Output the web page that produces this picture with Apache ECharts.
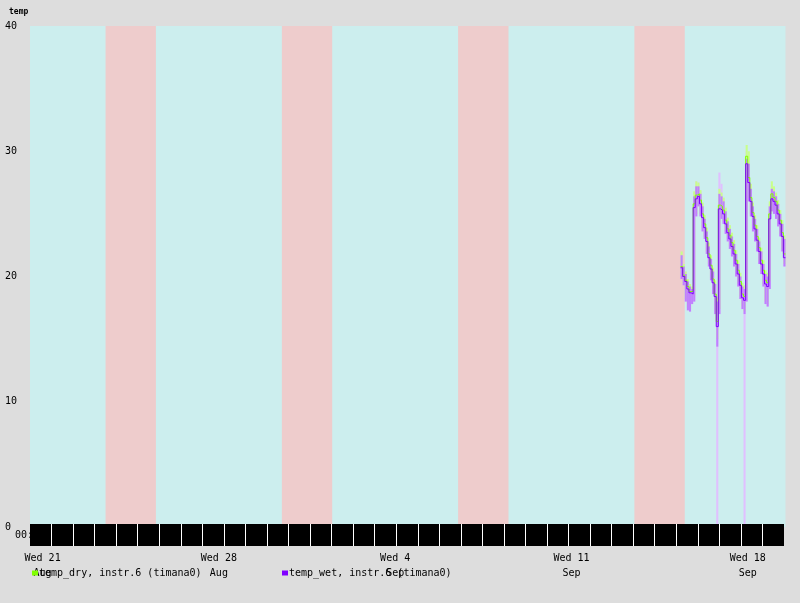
<!DOCTYPE html>
<html><head><meta charset="utf-8">
<script src="https://cdn.jsdelivr.net/npm/echarts@6/dist/echarts.min.js"></script>
<style>html,body{margin:0;padding:0;background:#dddddd}#c{width:800px;height:603px}</style>
</head><body><div id="c"></div>
<script>
const axisStart = '2024-08-21 00:00';
const axisEnd = '2024-09-20 00:00';
const weekendStarts = ['2024-08-24 00:00', '2024-08-31 00:00', '2024-09-07 00:00', '2024-09-14 00:00'];
const weekendEnds = ['2024-08-26 00:00', '2024-09-02 00:00', '2024-09-09 00:00', '2024-09-16 00:00'];
const xLabelTimes = ['2024-08-21 12:00', '2024-08-28 12:00', '2024-09-04 12:00', '2024-09-11 12:00', '2024-09-18 12:00'];
const xLabels = ['Wed 21\nAug', 'Wed 28\nAug', 'Wed 4\nSep', 'Wed 11\nSep', 'Wed 18\nSep'];
const yMin = 0, yMax = 40, yStep = 10;
const bandLabel = ['00:00'];
const dryName = 'temp_dry, instr.6 (timana0)';
const wetName = 'temp_wet, instr.6 (timana0)';
const sampleStart = '2024-09-15 20:00';
const sampleStepHours = 2;

const wetAvg = [
20.7, 20.0, 19.6, 19.0, 18.7, 18.6, 25.5, 26.2, 26.4, 25.8,
24.7, 23.9, 22.8, 21.5, 20.6, 19.5, 18.4, 16.0, 25.4, 25.3,
25.0, 24.2, 23.5, 23.0, 22.4, 21.8, 21.0, 20.2, 19.3, 18.3,
18.1, 29.0, 27.5, 26.0, 24.8, 23.8, 22.9, 22.0, 21.0, 20.2,
19.4, 19.2, 24.6, 26.2, 26.0, 25.7, 25.0, 24.2, 23.2, 21.5];
const wetMin = [
19.8, 19.3, 18.0, 17.3, 17.2, 17.8, 18.0, 24.8, 25.6, 24.8,
23.6, 23.0, 21.8, 20.8, 19.7, 18.6, 17.0, 14.4, 17.0, 24.6,
24.2, 23.4, 22.8, 22.2, 21.6, 20.8, 20.0, 19.2, 18.2, 17.4,
17.0, 18.0, 26.0, 24.8, 23.6, 22.8, 22.0, 21.0, 20.2, 19.2,
17.8, 17.6, 19.0, 25.2, 25.0, 24.6, 24.0, 23.2, 22.0, 20.8];
const wetMax = [
21.7, 20.8, 20.2, 19.6, 19.2, 19.0, 26.4, 27.2, 27.2, 26.6,
25.6, 24.6, 23.6, 22.4, 21.4, 20.4, 19.4, 18.0, 26.6, 26.4,
26.0, 25.2, 24.4, 23.8, 23.2, 22.6, 21.8, 21.0, 20.0, 19.2,
19.0, 29.4, 29.0, 27.0, 25.6, 24.6, 23.8, 22.8, 22.0, 21.0,
20.2, 20.0, 25.6, 27.0, 26.8, 26.4, 25.8, 25.0, 24.2, 23.0];
const wetLow = [
19.8, 19.3, 18.0, 17.3, 17.2, 17.8, 18.0, 24.8, 25.6, 24.8,
23.6, 23.0, 21.8, 20.8, 19.7, 18.6, 17.0, 0.0, 17.0, 24.6,
24.2, 23.4, 22.8, 22.2, 21.6, 20.8, 20.0, 19.2, 18.2, 17.4,
0.0, 18.0, 26.0, 24.8, 23.6, 22.8, 22.0, 21.0, 20.2, 19.2,
17.8, 17.6, 19.0, 25.2, 25.0, 24.6, 24.0, 23.2, 22.0, 20.8];
const wetHigh = [
21.7, 20.8, 20.2, 19.6, 19.2, 19.0, 26.6, 27.6, 27.5, 26.8,
25.6, 24.6, 23.6, 22.4, 21.4, 20.4, 19.4, 18.4, 28.3, 27.4,
26.2, 25.2, 24.4, 23.8, 23.2, 22.6, 21.8, 21.0, 20.0, 19.2,
19.2, 30.0, 29.6, 27.2, 25.6, 24.6, 23.8, 22.8, 22.0, 21.0,
20.2, 20.0, 25.8, 27.3, 27.0, 26.4, 25.8, 25.0, 24.2, 23.0];
const dryAvg = [
20.8, 20.1, 19.7, 19.2, 18.8, 18.8, 25.8, 26.5, 26.6, 26.1,
25.0, 24.2, 23.1, 21.8, 20.9, 19.8, 18.6, 16.4, 25.7, 25.6,
25.3, 24.5, 23.8, 23.3, 22.7, 22.1, 21.3, 20.5, 19.6, 18.6,
18.4, 29.6, 27.9, 26.3, 25.1, 24.1, 23.2, 22.3, 21.3, 20.5,
19.7, 19.5, 25.0, 26.6, 26.3, 26.0, 25.3, 24.5, 23.5, 21.8];
const dryMin = [
20.0, 19.5, 18.2, 17.5, 17.4, 18.0, 18.4, 25.0, 25.8, 25.0,
23.8, 23.2, 22.0, 21.0, 19.9, 18.8, 17.2, 15.0, 17.4, 24.8,
24.4, 23.6, 23.0, 22.4, 21.8, 21.0, 20.2, 19.4, 18.4, 17.6,
17.2, 18.6, 26.4, 25.0, 23.8, 23.0, 22.2, 21.2, 20.4, 19.4,
18.0, 17.8, 19.6, 25.4, 25.2, 24.8, 24.2, 23.4, 22.2, 21.0];
const dryMax = [
22.0, 21.0, 20.4, 19.8, 19.4, 19.2, 26.8, 27.6, 27.5, 26.9,
25.9, 24.9, 23.9, 22.7, 21.7, 20.7, 19.7, 18.3, 27.0, 26.7,
26.3, 25.5, 24.7, 24.1, 23.5, 22.9, 22.1, 21.3, 20.3, 19.5,
19.3, 30.5, 30.0, 27.4, 25.9, 24.9, 24.1, 23.1, 22.3, 21.3,
20.5, 20.3, 26.0, 27.6, 27.2, 26.7, 26.1, 25.3, 24.5, 23.3];

function ms(s) { return new Date(s.replace(' ', 'T')).getTime(); }
const stepMs = sampleStepHours * 3600 * 1000;
const t0 = ms(sampleStart);
const times = wetAvg.map((_, i) => t0 + i * stepMs);
const labelMs = xLabelTimes.map(ms);
const FONT = 'DejaVu Sans Mono';

function bandData(lo, hi) { return times.map((t, i) => [t, lo[i], hi[i]]); }
function lineData(v) { const d = times.map((t, i) => [t, v[i]]); d.push([times[times.length - 1] + stepMs, v[v.length - 1]]); return d; }
function bandRender(color) {
  return function (params, api) {
    const t = api.value(0), lo = api.value(1), hi = api.value(2);
    const p1 = api.coord([t, hi]);
    const p2 = api.coord([t + stepMs, lo]);
    return { type: 'rect', shape: { x: p1[0], y: p1[1], width: p2[0] - p1[0], height: p2[1] - p1[1] }, style: { fill: color } };
  };
}

const chart = echarts.init(document.getElementById('c'));
chart.setOption({
  animation: false,
  backgroundColor: '#dddddd',
  title: { text: 'temp', left: 4, top: 3, textStyle: { fontFamily: FONT, fontSize: 8, fontWeight: 'bold', color: '#000' } },
  legend: [
    { data: [{ name: dryName, icon: 'rect', itemStyle: { color: '#80ff00' } }], left: 32, top: 568, padding: 0, itemGap: 0, itemWidth: 6, itemHeight: 5, selectedMode: false,
      textStyle: { fontFamily: FONT, fontSize: 10, color: '#000', padding: [0, 0, 0, -4] } },
    { data: [{ name: wetName, icon: 'rect', itemStyle: { color: '#8000ff' } }], left: 282, top: 568, padding: 0, itemGap: 0, itemWidth: 6, itemHeight: 5, selectedMode: false,
      textStyle: { fontFamily: FONT, fontSize: 10, color: '#000', padding: [0, 0, 0, -4] } }
  ],
  grid: [
    { left: 30, width: 755.5, top: 26, height: 501, show: true, backgroundColor: '#cceeee', borderWidth: 0 },
    { left: 30, width: 754, top: 524, height: 22, show: false }
  ],
  xAxis: [
    { gridIndex: 0, type: 'time', min: ms(axisStart), max: ms(axisEnd),
      axisLine: { show: false }, axisTick: { show: false }, splitLine: { show: false }, axisLabel: { show: false } },
    { gridIndex: 1, type: 'value', min: 0, max: 35, interval: 1, z: 10,
      axisLine: { show: false }, axisTick: { show: false }, axisLabel: { show: false },
      splitLine: { show: true, showMinLine: false, showMaxLine: false, lineStyle: { color: '#ffffff', width: 1 } } },
    { gridIndex: 0, type: 'value', min: ms(axisStart), max: ms(axisEnd), position: 'bottom',
      axisLine: { show: false }, axisTick: { show: false }, splitLine: { show: false },
      axisLabel: { customValues: labelMs, hideOverlap: false,
        margin: 24, lineHeight: 15, fontFamily: FONT, fontSize: 10, color: '#000', align: 'center',
        formatter: function (v) { const i = labelMs.findIndex(m => Math.abs(m - v) < 60000); return i >= 0 ? xLabels[i] : ''; } } }
  ],
  yAxis: [
    { gridIndex: 0, type: 'value', min: yMin, max: yMax, interval: yStep,
      axisLine: { show: false }, axisTick: { show: false }, splitLine: { show: false },
      axisLabel: { align: 'left', margin: 25, fontFamily: FONT, fontSize: 10, color: '#000' } },
    { gridIndex: 1, type: 'category', data: bandLabel, z: 0,
      axisLine: { show: false }, axisTick: { show: false }, splitLine: { show: false },
      axisLabel: { align: 'left', margin: 15, fontFamily: FONT, fontSize: 10, color: '#000' } }
  ],
  series: [
    { name: 'weekend', type: 'custom', xAxisIndex: 0, yAxisIndex: 0, z: 1, silent: true,
      data: weekendStarts.map((s, i) => [ms(s), ms(weekendEnds[i])]),
      encode: { x: [0, 1] },
      renderItem: function (params, api) {
        const p1 = api.coord([api.value(0), yMax]);
        const p2 = api.coord([api.value(1), yMin]);
        return { type: 'rect', shape: { x: p1[0], y: p1[1], width: p2[0] - p1[0], height: p2[1] - p1[1] }, style: { fill: '#eecccc' } };
      } },
    { name: 'wet range', type: 'custom', z: 2, silent: true, clip: true, data: bandData(wetLow, wetHigh), encode: { x: 0, y: [1, 2] }, renderItem: bandRender('#e0c0ff') },
    { name: 'dry range', type: 'custom', z: 3, silent: true, clip: true, data: bandData(dryMin, dryMax), encode: { x: 0, y: [1, 2] }, renderItem: bandRender('#c8ff8c') },
    { name: 'wet minmax', type: 'custom', z: 4, silent: true, clip: true, data: bandData(wetMin, wetMax), encode: { x: 0, y: [1, 2] }, renderItem: bandRender('#c080ff') },
    { name: dryName, type: 'line', z: 5, step: 'end', showSymbol: false, silent: true, data: lineData(dryAvg), color: '#80ff00', lineStyle: { width: 1, color: '#80ff00' } },
    { name: wetName, type: 'line', z: 6, step: 'end', showSymbol: false, silent: true, data: lineData(wetAvg), color: '#8000ff', lineStyle: { width: 1, color: '#8000ff' } },
    { name: 'band', type: 'custom', xAxisIndex: 1, yAxisIndex: 1, z: 2, silent: true, data: [[0, 0]],
      renderItem: function (params, api) {
        const cs = params.coordSys;
        return { type: 'rect', shape: { x: cs.x, y: cs.y, width: cs.width, height: cs.height }, style: { fill: '#000000' } };
      } }
  ]
});
</script>
</body></html>
